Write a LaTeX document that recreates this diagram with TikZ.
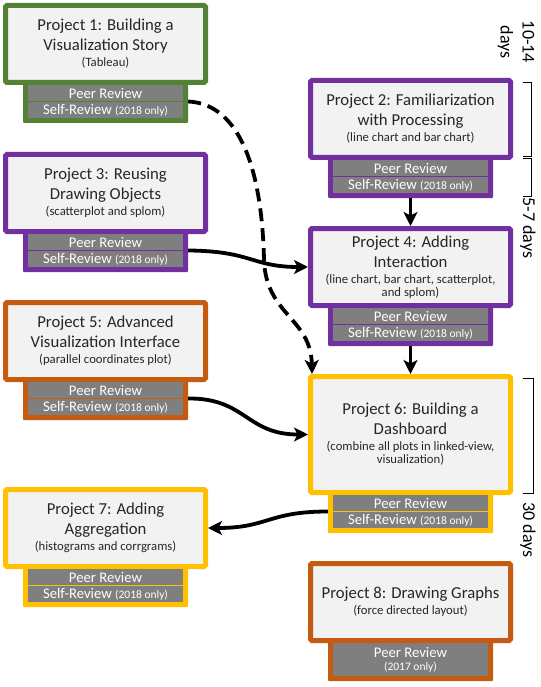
\documentclass[tikz,border=0pt]{standalone}
\usepackage{fontspec}
\setmainfont{Carlito}
\usetikzlibrary{arrows.meta}
\definecolor{cgreen}{HTML}{548235}
\definecolor{cpurple}{HTML}{7030A0}
\definecolor{corange}{HTML}{C55A11}
\definecolor{cgold}{HTML}{FFC000}
\definecolor{boxfill}{HTML}{F2F2F2}
\definecolor{stripgray}{HTML}{7F7F7F}
\newcommand{\projtitle}{\fontsize{16.7}{20}\selectfont}
\newcommand{\projsub}{\fontsize{12.7}{14}\selectfont}
\newcommand{\smallnote}{\fontsize{11.5}{12}\selectfont}
\tikzset{
  projbox/.style={draw=#1, fill=boxfill, line width=5pt, rounded corners=1.5pt,
    minimum width=200pt, align=center, inner sep=0pt, text=black!85, font=\projtitle},
  revbox/.style={fill=#1, minimum width=165pt, minimum height=43pt, inner sep=0pt, rounded corners=1pt},
  strip/.style={fill=stripgray, minimum width=155pt, minimum height=16pt, inner sep=0pt,
    text=white, font=\fontsize{14.7}{16}\selectfont},
  arr/.style={line width=3.8pt, -{Stealth[length=14pt,width=14pt,inset=3.5pt]}},
  dasharr/.style={arr, dash pattern=on 13pt off 7pt},
  bracket/.style={line width=0.8pt, black},
  daylabel/.style={rotate=-90, align=center, inner sep=0pt, font=\fontsize{18}{22}\selectfont}
}
% id, left, top, height, colour, text
\newcommand{\mkproj}[6]{%
  \node[revbox=#5] (r#1) at ({#2+102.5},{#3+#4+16.5}) {};
  \node[projbox=#5, minimum height={#4-5}] (p#1) at ({#2+102.5},{#3+#4/2}) {#6};
}
% id, left, top, height
\newcommand{\mkstrips}[4]{%
  \node[strip] (a#1) at ({#2+102.5},{#3+#4+8}) {Peer Review};
  \node[strip] (b#1) at ({#2+102.5},{#3+#4+25}) {Self-Review {\smallnote(2018 only)}};
}
\begin{document}
\begin{tikzpicture}[x=1pt,y=-1pt]
\path[use as bounding box, fill=white] (0,0) rectangle (540,687);

\mkproj{1}{3}{3}{82}{cgreen}{Project 1: Building a\\Visualization Story\\[-4pt]\projsub (Tableau)}
\mkstrips{1}{3}{3}{82}
\mkproj{2}{308}{78}{82}{cpurple}{Project 2: Familiarization\\with Processing\\[-4pt]\projsub (line chart and bar chart)}
\mkstrips{2}{308}{78}{82}
\mkproj{3}{3}{152}{82}{cpurple}{Project 3: Reusing\\Drawing Objects\\[-4pt]\projsub (scatterplot and splom)}
\mkstrips{3}{3}{152}{82}
\mkproj{4}{308}{226}{82}{cpurple}{Project 4: Adding\\Interaction\\[-4pt]\projsub (line chart, bar chart, scatterplot,\\[-7pt]\projsub and splom)}
\mkstrips{4}{308}{226}{82}
\mkproj{5}{3}{300}{82}{corange}{Project 5: Advanced\\Visualization Interface\\[-4pt]\projsub (parallel coordinates plot)}
\mkstrips{5}{3}{300}{82}
\mkproj{6}{308}{374}{121}{cgold}{Project 6: Building a\\Dashboard\\[-4pt]\projsub (combine all plots in linked-view,\\[-7pt]\projsub visualization)}
\mkstrips{6}{308}{374}{121}
\mkproj{7}{3}{487}{82}{cgold}{Project 7: Adding\\Aggregation\\[-4pt]\projsub (histograms and corrgrams)}
\mkstrips{7}{3}{487}{82}
\mkproj{8}{308}{561}{82}{corange}{Project 8: Drawing Graphs\\[-4pt]\projsub (force directed layout)}
\node[strip, minimum height=33pt, align=center] (a8) at (410.5,659.5) {Peer Review\\[-3pt]\smallnote (2017 only)};

% connectors
\draw[dasharr] (r1.east) .. controls (240,104) and (262,170) .. (264,260)
  .. controls (266,315) and (311,318) .. ([xshift=4pt]p6.north west);
\draw[arr] (r3.east) .. controls (252,251) and (252,267) .. (p4.west);
\draw[arr] (r5.east) .. controls (246,398) and (246,434.5) .. (p6.west);
\draw[arr] (r6.west) .. controls (268,511.5) and (268,528) .. (p7.east);
\draw[arr] (r2.south) -- (p4.north);
\draw[arr] (r4.south) -- (p6.north);

% brackets and day labels
\draw[bracket] (523,82) -- (531,82) -- (531,156) -- (523,156);
\draw[bracket] (523,158) -- (531,158) -- (531,196) -- (523,196);
\draw[bracket] (523,378) -- (533,378) -- (533,493) -- (523,493);
\node[daylabel] (d1) at (516,42) {10-14\\days};
\node[daylabel] (d2) at (528,228) {5-7 days};
\node[daylabel] (d3) at (528,530) {30 days};
\end{tikzpicture}
\end{document}
